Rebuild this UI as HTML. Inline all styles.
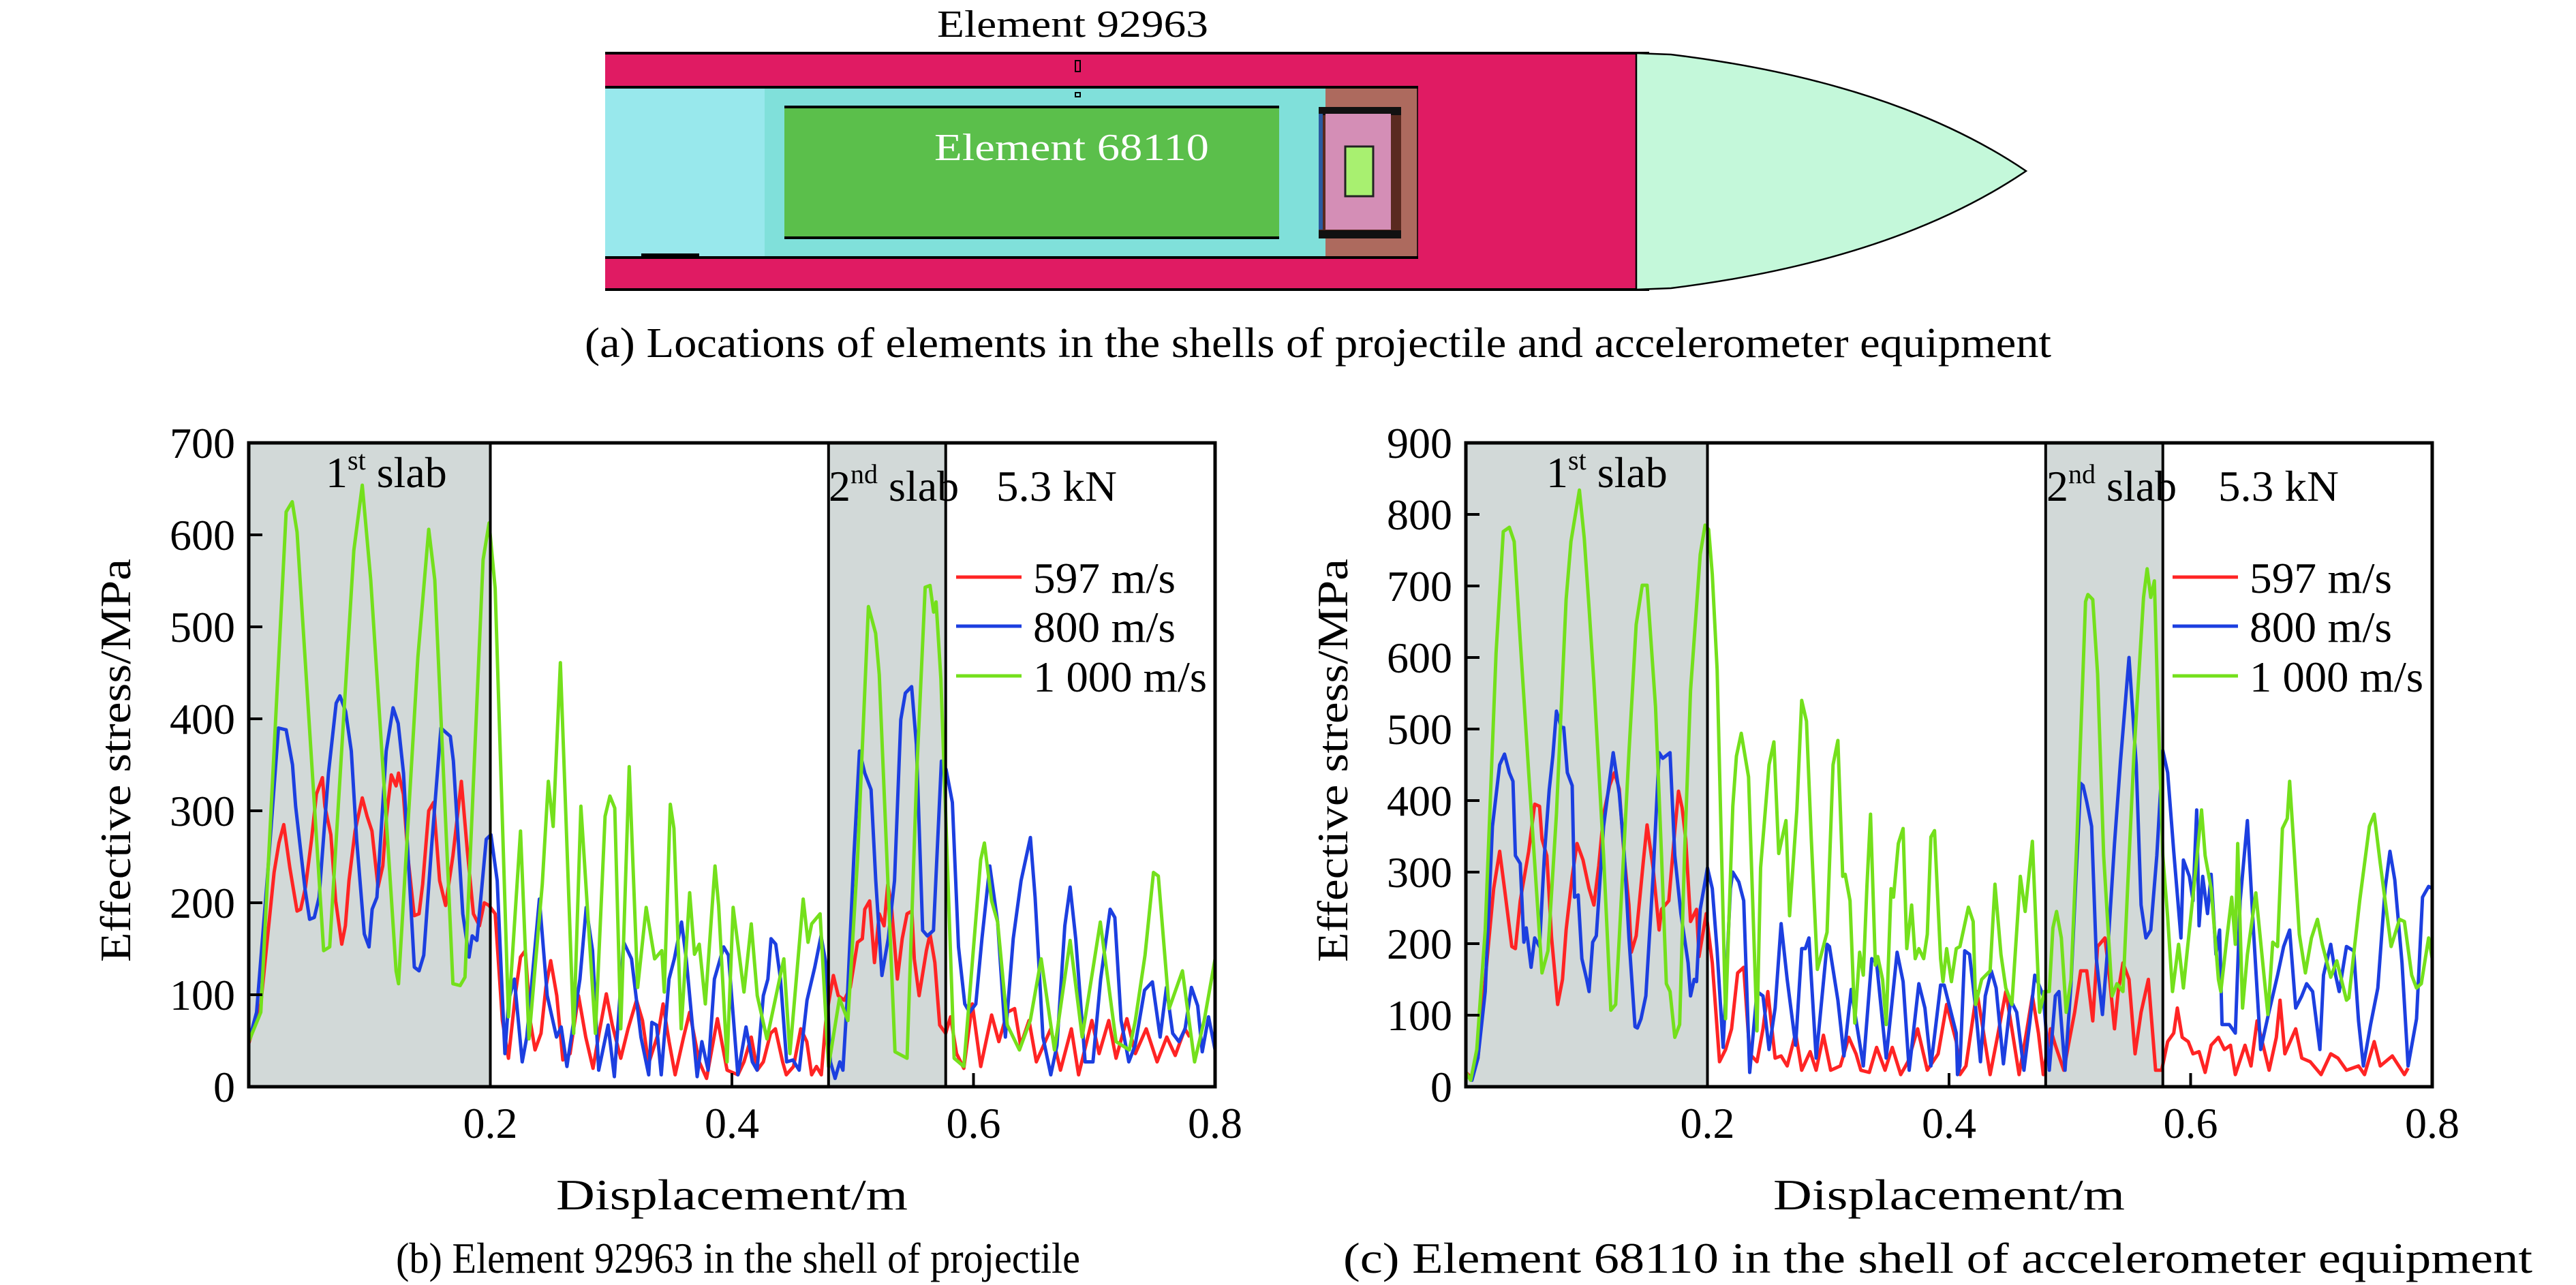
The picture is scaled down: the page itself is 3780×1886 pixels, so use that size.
<!DOCTYPE html>
<html><head><meta charset="utf-8">
<style>
html,body{margin:0;padding:0;background:#fff;}
svg{display:block;}
text{font-family:"Liberation Serif","Times New Roman",serif;}
</style></head>
<body>
<svg id="fig" width="3780" height="1886" viewBox="0 0 3780 1886" xmlns="http://www.w3.org/2000/svg" font-family="Liberation Serif, serif">
<g>
  <text x="1375" y="54" font-size="56" textLength="398" lengthAdjust="spacingAndGlyphs">Element 92963</text>
  <rect x="888" y="77" width="1513" height="349" fill="#e01b63"/>
  <line x1="888" y1="78" x2="2420" y2="78" stroke="#000" stroke-width="4"/>
  <line x1="888" y1="425" x2="2420" y2="425" stroke="#000" stroke-width="4"/>
  <path d="M2401,78 L2452,80 Q2780,120 2973,251 Q2780,382 2452,423 L2401,425 Z" fill="#c4f8da" stroke="#000" stroke-width="2.5"/>
  <rect x="888" y="128" width="234" height="250" fill="#98e8ec"/>
  <rect x="1122" y="128" width="823" height="250" fill="#80e0da"/>
  <rect x="1945" y="128" width="135" height="250" fill="#ad6a5e"/>
  <line x1="888" y1="128" x2="2081" y2="128" stroke="#000" stroke-width="4"/>
  <line x1="888" y1="378" x2="2081" y2="378" stroke="#000" stroke-width="4"/>
  <line x1="2080" y1="128" x2="2080" y2="378" stroke="#000" stroke-width="1.5"/>
  <rect x="941" y="372" width="85" height="6" fill="#000"/>
  <rect x="1151" y="157" width="726" height="192" fill="#5bbf4b"/>
  <line x1="1151" y1="157" x2="1877" y2="157" stroke="#000" stroke-width="4"/>
  <line x1="1151" y1="349" x2="1877" y2="349" stroke="#000" stroke-width="4"/>
  <text x="1371" y="235" font-size="56" fill="#fff" textLength="403" lengthAdjust="spacingAndGlyphs">Element 68110</text>
  <rect x="1935" y="157" width="121" height="193" fill="#5a2a20"/>
  <rect x="1935" y="157" width="121" height="12" fill="#111"/>
  <rect x="1935" y="338" width="121" height="12" fill="#111"/>
  <rect x="1935" y="167" width="6" height="170" fill="#2a5aa0"/>
  <rect x="1945" y="167" width="96" height="170" fill="#d48eb6"/>
  <rect x="1974" y="215" width="41" height="73" fill="#a8f070" stroke="#222" stroke-width="3"/>
  <rect x="1578" y="89" width="7" height="16" fill="#e01b63" stroke="#000" stroke-width="2"/>
  <rect x="1578" y="136" width="7" height="6" fill="#80e0da" stroke="#000" stroke-width="2"/>
  <text x="858" y="524" font-size="62" textLength="2152" lengthAdjust="spacingAndGlyphs">(a) Locations of elements in the shells of projectile and accelerometer equipment</text>
</g>
<g id="chartB"></g>
<g id="chartC"></g>
<text x="581" y="1868" font-size="64" textLength="1004" lengthAdjust="spacingAndGlyphs">(b) Element 92963 in the shell of projectile</text>
<text x="1971" y="1868" font-size="64" textLength="1745" lengthAdjust="spacingAndGlyphs">(c) Element 68110 in the shell of accelerometer equipment</text>
</svg>
<script>
// ---------- Chart (b) data ----------
const bYTicks = [0,100,200,300,400,500,600,700];
const bXTicks = [0.2,0.4,0.6,0.8];
const bSlabs = [[0,0.2],[0.48,0.577]];
const bGreenX = [0,.010,.031,.036,.040,.062,.067,.087,.094,.101,.122,.124,.140,.149,.154,.169,.175,.179,.194,.199,.204,.215,.225,.232,.243,.248,.252,.258,.269,.275,.287,.295,.299,.303,.308,.315,.322,.329,.336,.342,.344,.349,.352,.358,.365,.369,.373,.378,.386,.389,.396,.401,
 .410,.416,.421,.429,.443,.448,.459,.463,.466,.473,.480,.489,.496,.504,.513,.519,.522,.535,.545,.553,.560,.564,.567,.569,.573,.577,.584,.592,.606,.609,.615,.620,.628,.638,.647,.656,.667,.680,.690,.705,.718,.729,.734,.742,.749,.753,.762,.773,.783,.791,.800];
const bGreenY = [49,81,625,636,603,148,152,583,654,551,126,112,467,606,551,112,110,119,573,613,542,76,278,52,220,332,283,461,58,305,58,294,316,303,63,348,108,195,139,148,103,307,281,63,211,144,155,90,240,197,27,195,
 103,177,99,52,139,36,204,157,177,188,22,96,72,247,522,493,448,38,31,341,543,545,516,527,444,296,31,22,247,265,202,179,67,40,72,139,40,159,54,179,49,40,72,143,233,229,85,126,27,72,139];
const bBlueX = [0,.0065,.0155,.0246,.031,.0362,.0388,.0466,.0504,.0543,.0582,.066,.0724,.0755,.0802,.0849,.0893,.0957,.0996,.1022,.1061,.1138,.1195,.1237,.1281,.1319,.1371,.141,.1449,.1513,.1591,.1669,.1694,.1772,.1824,.185,.1889,.1966,.2005,.2057,.2121,.2152,.2199,.2264,.2302,.2406,.2471,.2548,.2587,.2634,.2742,.2794,.2846,.2897,.2975,.3027,.3104,.3169,.3247,.3311,.3337,.3376,.3415,.3479,.3523,.3583,.3622,.3712,.3751,.3803,.3855,.3932,.3971,.4049,
 .4117,.4169,.4208,.426,.4298,.4324,.4363,.4402,.4453,.4505,.4557,.4622,.4686,.4738,.4777,.4816,.4854,.4893,.4919,.4958,.501,.5056,.51,.5152,.5191,.5242,.5294,.5346,.5398,.5436,.5488,.5527,.5579,.5618,.5669,.5734,.5773,.5825,.5876,.5928,.5967,.6019,.607,.6135,.62,.6264,.6329,.6394,.6471,.651,.6575,.664,.6691,.6756,.68,.6846,.6924,.6989,.7053,.7131,.717,.7222,.7286,.7338,.7416,.7481,.7545,.7597,.7649,.7701,.7752,.7804,.7856,.7894,.7946,.8];
const bBlueY = [49,81,229,390,388,350,305,215,182,184,206,341,417,425,408,365,269,166,152,193,206,365,412,395,341,251,130,126,143,260,390,381,354,188,141,164,159,269,274,224,36,94,117,27,54,204,99,54,65,22,117,195,148,18,67,11,157,139,54,13,70,67,13,117,139,179,139,11,49,18,117,152,143,13,
 65,27,18,99,117,161,155,117,27,29,18,94,130,164,135,27,9,27,18,103,251,365,341,323,224,121,161,224,399,428,435,372,170,164,170,354,345,309,152,90,81,90,161,240,179,54,161,224,271,206,54,13,45,175,217,161,27,27,117,193,184,72,27,45,105,114,54,108,58,49,63,108,88,38,76,40];
const bRedX = [0,.010,.021,.025,.029,.034,.040,.043,.047,.052,.056,.061,.063,.068,.072,.077,.080,.083,.088,.094,.098,.102,.107,.111,.114,.118,.122,.124,.128,.132,.137,.141,.144,.149,.153,.158,.163,.169,.176,.181,.186,.191,.195,.199,.204,.210,.215,.221,.225,.229,.233,.237,.242,.246,.250,.255,.260,.266,.273,.279,.285,.290,.296,.301,.308,.314,.321,.326,.331,.339,.343,.348,.353,.360,.365,.373,.379,.388,.396,.405,
 .410,.416,.421,.426,.432,.436,.442,.445,.451,.457,.462,.466,.470,.474,.478,.484,.488,.493,.498,.504,.508,.510,.514,.518,.522,.526,.529,.532,.537,.541,.545,.549,.551,.555,.561,.564,.568,.572,.577,.581,.586,.592,.599,.606,.615,.621,.628,.634,.639,.646,.652,.664,.672,.681,.687,.698,.704,.712,.718,.727,.734,.743,.752,.760,.767,.775,.779];
const bRedY = [47,90,233,265,285,238,191,193,217,269,318,336,305,274,202,155,175,224,278,314,294,278,217,240,294,339,327,341,318,247,186,188,220,300,309,224,197,251,332,256,188,175,200,197,188,72,31,103,141,148,72,40,58,108,137,99,29,36,99,54,20,58,101,67,31,63,94,72,25,58,90,49,13,54,81,27,9,74,18,13,
 27,54,18,27,58,63,27,13,22,63,49,13,22,13,76,121,99,94,108,157,161,193,202,135,188,175,220,197,117,161,188,191,139,99,148,166,135,67,58,76,36,20,90,22,78,49,81,85,45,72,27,63,18,63,13,72,36,72,31,74,36,63,27,54,34,63,54];

// ---------- Chart (c) data ----------
const cYTicks = [0,100,200,300,400,500,600,700,800,900];
const cXTicks = [0.2,0.4,0.6,0.8];
const cSlabs = [[0,0.2],[0.48,0.577]];
const cGreenX = [0,.004,.009,.016,.025,.031,.036,.040,.045,.052,.063,.068,.075,.083,.087,.094,.098,.102,.106,.114,.120,.124,.127,.135,.141,.146,.150,.153,.157,.162,.166,.169,.173,.177,.181,.186,.194,.198,.201,.204,.208,.215,.221,.224,.228,.234,.241,.244,.251,.255,.259,.265,.268,.274,.278,.282,.286,.291,.299,.304,.308,.312,.314,.318,.322,.326,.329,.332,.335,.339,.341,.345,.348,.352,.354,.358,.362,.365,.369,.372,.375,.379,.382,.385,.388,.393,.395,.398,.402,.406,
 .409,.416,.420,.422,.427,.434,.438,.443,.447,.452,.459,.463,.469,.475,.479,.483,.486,.489,.493,.497,.501,.506,.513,.515,.519,.523,.528,.535,.539,.544,.548,.553,.561,.564,.567,.570,.573,.577,.581,.585,.590,.594,.599,.604,.609,.612,.617,.623,.625,.630,.634,.637,.639,.643,.647,.654,.659,.664,.668,.672,.676,.680,.682,.686,.690,.695,.700,.705,.709,.716,.721,.729,.731,.740,.748,.752,.757,.766,.773,.777,.783,.787,.791,.797,.800];
const cGreenY = [20,9,52,219,606,776,782,762,623,439,159,190,381,681,762,834,767,669,565,323,107,115,208,467,646,701,701,629,531,323,144,133,69,87,323,554,744,785,779,716,583,95,392,462,494,433,78,306,450,482,326,372,239,387,540,511,346,164,216,450,484,294,297,260,89,188,156,280,381,170,182,150,87,277,265,340,361,193,254,179,193,179,213,349,358,179,147,193,147,193,
 196,251,231,115,150,162,283,185,138,115,294,245,343,104,133,133,222,245,208,104,150,352,678,688,681,577,323,127,144,133,283,462,684,724,684,707,531,323,237,133,199,138,219,300,387,323,277,150,133,208,265,199,340,110,185,271,185,101,202,196,361,375,427,323,213,159,208,234,199,153,176,121,124,260,364,381,312,196,234,231,156,138,144,208,179];
const cBlueX = [0,.005,.010,.016,.022,.028,.032,.036,.039,.041,.045,.048,.050,.054,.057,.061,.065,.069,.072,.075,.079,.081,.084,.088,.090,.093,.096,.100,.102,.105,.108,.114,.122,.127,.131,.135,.140,.142,.145,.149,.155,.160,.163,.169,.173,.178,.184,.186,.189,.191,.194,.200,.204,.208,.213,.219,.221,.226,.230,.235,.241,.246,.251,.256,.261,.266,.273,.278,.281,.284,.290,.299,.301,.308,.313,.319,.329,.336,.340,.348,.357,.362,.367,.375,.380,.385,.393,.396,.406,
 .407,.409,.413,.417,.422,.426,.430,.435,.439,.445,.451,.456,.462,.467,.471,.474,.478,.483,.488,.491,.496,.501,.505,.509,.511,.514,.518,.522,.527,.532,.537,.542,.549,.555,.559,.563,.567,.572,.577,.581,.586,.592,.594,.599,.602,.605,.607,.610,.614,.617,.621,.624,.626,.632,.637,.641,.647,.652,.658,.664,.672,.677,.682,.687,.692,.696,.701,.707,.710,.716,.720,.723,.729,.735,.739,.743,.749,.755,.761,.765,.769,.775,.780,.787,.792,.797,.800];
const cBlueY = [17,9,40,133,364,450,465,439,427,323,312,202,222,167,208,196,323,415,462,525,502,502,439,421,265,268,179,150,133,202,211,364,467,410,329,208,84,82,95,127,294,467,459,467,323,242,173,127,150,147,248,306,277,190,55,277,300,286,260,20,133,127,52,110,228,150,58,193,193,208,40,199,196,121,43,136,29,179,173,40,188,147,23,144,110,29,142,142,75,
 17,29,190,185,110,35,127,162,138,32,121,104,23,92,156,144,127,23,127,133,23,144,289,424,421,398,364,179,101,208,340,456,600,450,254,208,219,323,470,439,329,208,317,294,260,387,225,294,242,297,185,219,87,87,75,260,372,219,52,98,156,196,219,110,127,144,133,52,156,199,156,133,196,190,92,29,87,138,277,329,289,173,29,95,265,280,277];
const cRedX = [0,.005,.010,.016,.023,.028,.032,.038,.041,.045,.052,.057,.061,.063,.067,.071,.076,.080,.083,.088,.092,.097,.102,.106,.110,.114,.119,.123,.127,.131,.135,.137,.141,.147,.150,.155,.160,.162,.168,.173,.176,.179,.182,.186,.191,.193,.199,.204,.210,.215,.220,.225,.230,.235,.241,.246,.250,.256,.261,.266,.273,.278,.285,.290,.296,.302,.310,.317,.323,.327,.334,.340,.347,.353,.360,.366,.374,.382,.391,.398,.406,
 .409,.414,.421,.423,.427,.434,.440,.447,.452,.458,.464,.469,.474,.478,.484,.488,.495,.500,.504,.509,.514,.519,.523,.529,.532,.537,.540,.544,.549,.554,.559,.565,.571,.576,.581,.586,.589,.593,.598,.602,.607,.612,.617,.623,.628,.633,.637,.645,.650,.655,.660,.665,.671,.674,.678,.687,.692,.699,.708,.716,.722,.729,.739,.744,.752,.757,.767,.777,.780];
const cRedY = [20,12,40,150,277,329,277,196,193,260,329,395,392,346,323,208,115,150,219,294,340,317,277,254,309,381,421,439,416,323,254,188,211,317,366,306,219,248,260,358,413,390,346,231,248,182,242,173,35,52,81,159,167,46,35,81,133,40,43,29,75,23,49,23,72,23,29,69,46,23,20,55,23,55,17,35,81,23,46,115,63,
 17,29,110,133,92,17,69,133,81,17,75,127,75,17,81,58,23,69,104,162,162,92,196,208,167,81,133,173,150,46,104,150,23,23,63,75,110,69,63,46,49,20,58,69,52,58,17,58,29,92,58,23,69,121,46,81,40,35,17,46,40,23,29,17,63,29,43,17,26];

const legendLabels = ['597 m/s','800 m/s','1 000 m/s'];
const legendWidths = [209,209,255];
const seriesColors = ['#ff2424','#1c3fe0','#74e01c'];

const NS = 'http://www.w3.org/2000/svg';
function mk(tag, attrs, parent, txt){
  const e = document.createElementNS(NS, tag);
  for (const k in attrs) e.setAttribute(k, attrs[k]);
  if (txt !== undefined) e.textContent = txt;
  parent.appendChild(e);
  return e;
}

function drawChart(g, cfg){
  const L = cfg.left, T = 650, W = 1418, H = 945;
  const sx = v => L + v / 0.8 * W;
  const sy = v => T + H - v / cfg.ymax * H;
  cfg.slabs.forEach((s, i) => {
    const r = mk('rect', {x: sx(s[0]), y: T, width: sx(s[1]) - sx(s[0]), height: H, fill: '#d2d9d8'}, g);
    
    
  });
  const series = [[cfg.redX, cfg.redY], [cfg.blueX, cfg.blueY], [cfg.greenX, cfg.greenY]];
  const names = ['series-597', 'series-800', 'series-1000'];
  const clipId = 'clip' + cfg.id;
  const cp = mk('clipPath', {id: clipId}, g);
  mk('rect', {x: L, y: T - 5, width: W, height: H + 5}, cp);
  series.forEach((s, i) => {
    const n = Math.min(s[0].length, s[1].length);
    let d = '';
    for (let k = 0; k < n; k++) d += (k ? 'L' : 'M') + sx(s[0][k]).toFixed(1) + ',' + sy(s[1][k]).toFixed(1);
    const p = mk('path', {d: d, fill: 'none', stroke: seriesColors[i], 'stroke-width': 5, 'stroke-linejoin': 'round', 'clip-path': 'url(#' + clipId + ')'}, g);
    
    
  });
  const bounds = [cfg.slabs[0][1], cfg.slabs[1][0], cfg.slabs[1][1]];
  bounds.forEach(b => {
    const l = mk('line', {x1: sx(b), y1: T, x2: sx(b), y2: T + H, stroke: '#000', 'stroke-width': 4}, g);
    
    
  });
  const fr = mk('rect', {x: L, y: T, width: W, height: H, fill: 'none', stroke: '#000', 'stroke-width': 5}, g);
  
  
  cfg.yTicks.forEach(v => {
    if (v > 0 && v < cfg.ymax) mk('line', {x1: L, y1: sy(v), x2: L + 20, y2: sy(v), stroke: '#000', 'stroke-width': 4}, g);
    const t = mk('text', {x: L - 20, y: sy(v) + 22, 'font-size': 64, 'text-anchor': 'end'}, g, String(v));
    
    
  });
  cfg.xTicks.forEach(v => {
    if (v < 0.8) mk('line', {x1: sx(v), y1: T + H, x2: sx(v), y2: T + H - 20, stroke: '#000', 'stroke-width': 4}, g);
    const t = mk('text', {x: sx(v), y: 1670, 'font-size': 64, 'text-anchor': 'middle'}, g, String(v));
    
    
  });
  const xt = mk('text', {x: L + W / 2 - 258, y: 1775, 'font-size': 64, textLength: 516, lengthAdjust: 'spacingAndGlyphs'}, g, 'Displacement/m');
  
  
  const yt = mk('text', {x: -296, y: 0, 'font-size': 64, textLength: 592, lengthAdjust: 'spacingAndGlyphs', transform: 'translate(' + cfg.ytitleX + ',1116) rotate(-90)'}, g, 'Effective stress/MPa');
  
  
  const s1 = mk('text', {x: cfg.s1x, y: 715, 'font-size': 64}, g);
  
  
  mk('tspan', {}, s1, '1');
  mk('tspan', {'font-size': 40, dy: -26}, s1, 'st');
  mk('tspan', {dy: 26}, s1, ' slab');
  const s2 = mk('text', {x: cfg.s2x, y: 735, 'font-size': 64}, g);
  
  
  mk('tspan', {}, s2, '2');
  mk('tspan', {'font-size': 40, dy: -26}, s2, 'nd');
  mk('tspan', {dy: 26}, s2, ' slab');
  const kn = mk('text', {x: cfg.knx, y: 735, 'font-size': 64, textLength: 177, lengthAdjust: 'spacingAndGlyphs'}, g, '5.3 kN');
  
  
  const rows = [847, 919, 992];
  legendLabels.forEach((lab, i) => {
    const ln = mk('line', {x1: cfg.legX, y1: rows[i], x2: cfg.legX + 96, y2: rows[i], stroke: seriesColors[i], 'stroke-width': 5}, g);
    
    
    const tx = mk('text', {x: cfg.legX + 113, y: rows[i] + 23, 'font-size': 64, textLength: legendWidths[i], lengthAdjust: 'spacingAndGlyphs'}, g, lab);
    
    
  });
}

drawChart(document.getElementById('chartB'), {
  id: 'b', left: 365, ymax: 700, yTicks: bYTicks, xTicks: bXTicks, slabs: bSlabs,
  redX: bRedX, redY: bRedY, blueX: bBlueX, blueY: bBlueY, greenX: bGreenX, greenY: bGreenY,
  ytitleX: 191, s1x: 478, s2x: 1216, knx: 1462, legX: 1403
});
drawChart(document.getElementById('chartC'), {
  id: 'c', left: 2151, ymax: 900, yTicks: cYTicks, xTicks: cXTicks, slabs: cSlabs,
  redX: cRedX, redY: cRedY, blueX: cBlueX, blueY: cBlueY, greenX: cGreenX, greenY: cGreenY,
  ytitleX: 1977, s1x: 2269, s2x: 3003, knx: 3255, legX: 3188
});
</script>
</body></html>
